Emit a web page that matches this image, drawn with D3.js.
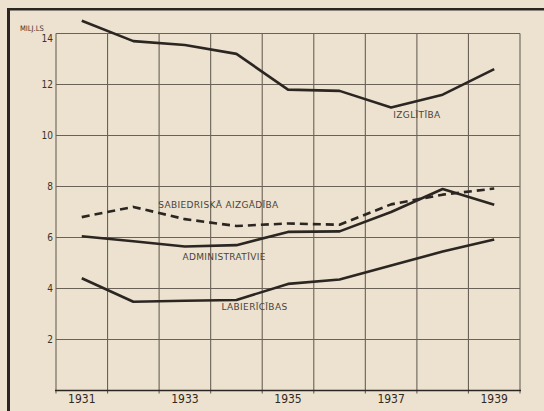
<!DOCTYPE html>
<html>
<head>
<meta charset="utf-8">
<script src="https://cdn.jsdelivr.net/npm/d3@7"></script>
<style>
    body { margin: 0; background: #ece2cf; }
    svg { display: block; }
</style>
</head>
<body>
<div id="vis"></div>
<script>
// Constants
const W = 544, H = 411;
const margin = { top: 33.5, right: 24, bottom: 20.5, left: 56 };

const years = [1931, 1932, 1933, 1934, 1935, 1936, 1937, 1938, 1939];
const yearTicks = [1931, 1933, 1935, 1937, 1939];
const valueTicks = [2, 4, 6, 8, 10, 12, 14];

// milj. Ls
const izglitiba = [14.5, 13.7, 13.55, 13.2, 11.8, 11.75, 11.1, 11.6, 12.6];
const aizgadiba = [6.8, 7.2, 6.72, 6.45, 6.55, 6.5, 7.3, 7.68, 7.92];
const administrativie = [6.05, 5.85, 5.65, 5.7, 6.22, 6.24, 7.0, 7.9, 7.28];
const labiericibas = [4.4, 3.48, 3.52, 3.55, 4.18, 4.35, 4.9, 5.45, 5.92];

const seriesNames = ['IZGLĪTĪBA', 'SABIEDRISKĀ AIZGĀDĪBA', 'ADMINISTRATĪVIE', 'LABIERĪCĪBAS'];
const seriesValues = [izglitiba, aizgadiba, administrativie, labiericibas];
const dashed = [false, true, false, false];

// label anchors in data space (year position, value)
const labelYear = [1937.5, 1933.65, 1933.76, 1934.35];
const labelValue = [10.68, 7.15, 5.1, 3.15];

const ink = '#2b2622';
const gridInk = '#6a6157';

const svg = d3.select('#vis')
    .append('svg')
    .attr('width', W)
    .attr('height', H);

const xScale = d3.scaleBand()
    .domain(years)
    .range([margin.left, W - margin.right]);

const yScale = d3.scaleLinear()
    .domain([0, 14])
    .range([H - margin.bottom, margin.top]);

const xMid = d => xScale(d) + xScale.bandwidth() / 2;
// fractional year -> pixel (for labels)
const xFrac = y => xMid(years[0]) + (y - years[0]) * xScale.step();

function drawFrame() {
    svg.append('line')
        .attr('x1', 8.5).attr('x2', 8.5)
        .attr('y1', 8).attr('y2', H)
        .attr('stroke', ink).attr('stroke-width', 3);
    svg.append('line')
        .attr('x1', 7).attr('x2', W)
        .attr('y1', 9.3).attr('y2', 9.3)
        .attr('stroke', ink).attr('stroke-width', 2.5);
}

function drawGrid() {
    const edges = years.map(d => xScale(d)).concat([xScale.range()[1]]);

    svg.append('g')
        .selectAll('line')
        .data(edges)
        .join('line')
        .attr('x1', d => d).attr('x2', d => d)
        .attr('y1', yScale(14)).attr('y2', yScale(0) + 3)
        .attr('stroke', gridInk)
        .attr('stroke-width', 1.1);

    svg.append('g')
        .selectAll('line')
        .data(valueTicks)
        .join('line')
        .attr('x1', xScale.range()[0]).attr('x2', xScale.range()[1])
        .attr('y1', d => yScale(d)).attr('y2', d => yScale(d))
        .attr('stroke', gridInk)
        .attr('stroke-width', 1.1);

    // baseline
    svg.append('line')
        .attr('x1', xScale.range()[0] - 1).attr('x2', xScale.range()[1] + 1)
        .attr('y1', yScale(0)).attr('y2', yScale(0))
        .attr('stroke', ink)
        .attr('stroke-width', 1.6);
}

function drawAxes() {
    const yAxis = d3.axisLeft(yScale)
        .tickValues(valueTicks)
        .tickSize(0)
        .tickPadding(3);

    const gy = svg.append('g')
        .attr('transform', `translate(${margin.left},0)`)
        .call(yAxis);
    gy.select('.domain').remove();
    gy.selectAll('text')
        .attr('font-family', '"DejaVu Sans Condensed", "DejaVu Sans", sans-serif')
        .attr('font-size', 10)
        .attr('fill', '#3a332d')
        .attr('dy', d => d === 14 ? '0.75em' : '0.32em');

    const xAxis = d3.axisBottom(xScale)
        .tickValues(yearTicks)
        .tickSize(0)
        .tickPadding(4);

    const gx = svg.append('g')
        .attr('transform', `translate(0,${yScale(0)})`)
        .call(xAxis);
    gx.select('.domain').remove();
    gx.selectAll('text')
        .attr('font-family', '"DejaVu Sans Condensed", "DejaVu Sans", sans-serif')
        .attr('font-size', 12)
        .attr('fill', '#2f2924');

    svg.append('text')
        .attr('x', 20)
        .attr('y', 31)
        .attr('font-family', '"DejaVu Sans Condensed", "DejaVu Sans", sans-serif')
        .attr('font-size', 7.5)
        .attr('fill', '#3a332d')
        .text('MILJ.LS');
}

function drawLines() {
    const line = d3.line()
        .x((d, i) => xMid(years[i]))
        .y(d => yScale(d));

    svg.append('g')
        .selectAll('path')
        .data(seriesValues)
        .join('path')
        .attr('d', d => line(d))
        .attr('fill', 'none')
        .attr('stroke', ink)
        .attr('stroke-width', 2.6)
        .attr('stroke-linejoin', 'round')
        .attr('stroke-dasharray', (d, i) => dashed[i] ? '8,5' : null);

    svg.append('g')
        .selectAll('text')
        .data(seriesNames)
        .join('text')
        .attr('x', (d, i) => xFrac(labelYear[i]))
        .attr('y', (d, i) => yScale(labelValue[i]))
        .attr('text-anchor', 'middle')
        .attr('font-family', '"DejaVu Sans", sans-serif')
        .attr('font-size', 9)
        .attr('letter-spacing', 0.35)
        .attr('fill', '#4a423a')
        .text(d => d);
}

drawFrame();
drawGrid();
drawAxes();
drawLines();
</script>
</body>
</html>
